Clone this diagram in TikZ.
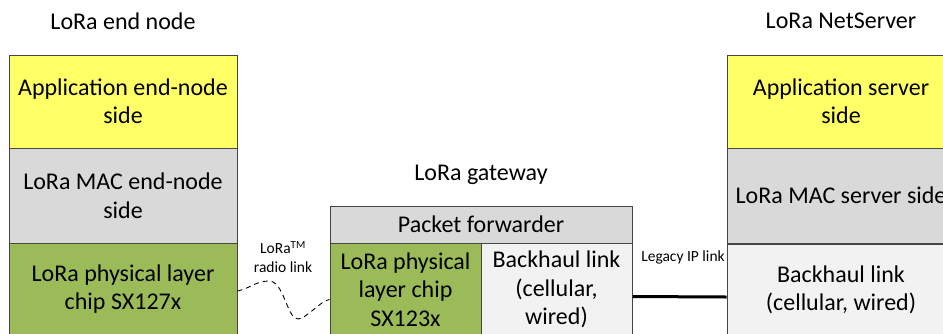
\documentclass[tikz,border=0pt]{standalone}
\usepackage{fontspec}
\setmainfont{Carlito}
\definecolor{appyellow}{RGB}{255,255,102}
\definecolor{macgray}{RGB}{217,217,217}
\definecolor{phygreen}{RGB}{155,187,89}
\definecolor{backgray}{RGB}{242,242,242}
\definecolor{bordergray}{RGB}{70,70,70}
\begin{document}
\begin{tikzpicture}[x=1pt,y=-1pt,
  box/.style={draw=bordergray, line width=1pt, inner sep=0pt, align=center,
    font=\fontsize{24}{28.5}\selectfont},
  title/.style={inner sep=0pt, font=\fontsize{24}{28.5}\selectfont},
  small/.style={inner sep=0pt, align=center, font=\fontsize{15.5}{19}\selectfont}]
\useasboundingbox (0,0) rectangle (943,333);
\clip (0,0) rectangle (943,333);
% end node
\node[title] (tend) at (123,21) {LoRa end node};
\node[box, fill=appyellow, minimum width=228pt, minimum height=93pt] (ea) at (123,101.5) {Application end-node\\side};
\node[box, fill=macgray, minimum width=228pt, minimum height=95pt] (em) at (123,195.5) {LoRa MAC end-node\\side};
\node[box, fill=phygreen, minimum width=228pt, minimum height=92pt] (ep) at (123,289) {LoRa physical layer\\chip SX127x};
% gateway
\node[title] (tgw) at (481,175) {LoRa gateway};
\node[box, fill=macgray, minimum width=302pt, minimum height=37pt] (gf) at (481,224.5) {Packet forwarder};
\node[box, fill=phygreen, minimum width=151pt, minimum height=92pt] (gp) at (405.5,289.5) {LoRa physical\\layer chip\\SX123x};
\node[box, fill=backgray, minimum width=151pt, minimum height=92pt] (gb) at (556.5,289.5) {Backhaul link\\(cellular,\\wired)};
% server
\node[title] (tsv) at (841,21) {LoRa NetServer};
\node[box, fill=appyellow, minimum width=228pt, minimum height=93pt] (sa) at (841,101.5) {Application server\\side};
\node[box, fill=macgray, minimum width=228pt, minimum height=95pt] (sm) at (841,195.5) {LoRa MAC server side};
\node[box, fill=backgray, minimum width=228pt, minimum height=92pt] (sb) at (841,290) {Backhaul link\\(cellular, wired)};
% links
\node[small] (rl) at (283,257) {LoRa\textsuperscript{TM}\\radio link};
\node[small] (ll) at (683,257) {Legacy IP link};
\coordinate (r1) at ([yshift=-2pt]ep.east);
\coordinate (r2) at ([yshift=-10pt]gp.west);
\draw[line width=0.9pt, dash pattern=on 5pt off 4pt] (r1) to[out=12,in=180] (269,281)
  .. controls (284,281) and (287,319) .. (298,319)
  .. controls (306,319) and (320,301) .. (r2);
\draw[line width=3pt] ([yshift=-7pt]gb.east) -- ([yshift=-7pt]sb.west);
\end{tikzpicture}
\end{document}
